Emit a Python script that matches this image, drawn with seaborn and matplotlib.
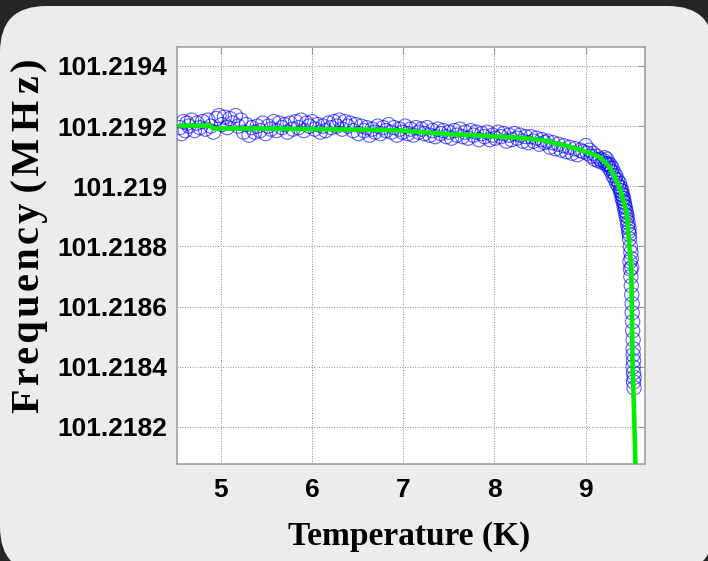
import matplotlib
matplotlib.use("Agg")
import matplotlib.pyplot as plt
from matplotlib.patches import FancyBboxPatch
import seaborn as sns
import pandas as pd

# ---------------- data ----------------
temp_meas = [
    4.55, 4.57, 4.59, 4.61, 4.63, 4.65, 4.68, 4.71, 4.74, 4.77,
    4.80, 4.83, 4.86, 4.89, 4.92, 4.95, 4.98, 5.01, 5.04, 5.07,
    5.10, 5.13, 5.16, 5.19, 5.22, 5.25, 5.28, 5.31, 5.34, 5.37,
    5.40, 5.43, 5.46, 5.49, 5.52, 5.55, 5.58, 5.61, 5.64, 5.67,
    5.70, 5.73, 5.76, 5.79, 5.82, 5.85, 5.88, 5.91, 5.94, 5.97,
    6.00, 6.03, 6.06, 6.09, 6.12, 6.15, 6.18, 6.21, 6.24, 6.27,
    6.30, 6.33, 6.36, 6.39, 6.42, 6.45, 6.48, 6.51, 6.54, 6.57,
    6.60, 6.63, 6.66, 6.69, 6.72, 6.75, 6.78, 6.81, 6.84, 6.87,
    6.90, 6.93, 6.96, 6.99, 7.02, 7.05, 7.08, 7.11, 7.14, 7.17,
    7.20, 7.23, 7.26, 7.29, 7.32, 7.35, 7.38, 7.41, 7.44, 7.47,
    7.50, 7.53, 7.56, 7.59, 7.62, 7.65, 7.68, 7.71, 7.74, 7.77,
    7.80, 7.83, 7.86, 7.89, 7.92, 7.95, 7.98, 8.01, 8.04, 8.07,
    8.10, 8.13, 8.16, 8.19, 8.22, 8.25, 8.28, 8.31, 8.34, 8.37,
    8.40, 8.43, 8.46, 8.49, 8.52, 8.55, 8.58, 8.61, 8.64, 8.67,
    8.70, 8.73, 8.76, 8.79, 8.82, 8.85, 8.88, 8.91, 8.94, 8.97,
    9.00, 9.02, 9.04, 9.06, 9.08, 9.10, 9.12, 9.14, 9.16, 9.18,
    9.20, 9.22, 9.24, 9.26, 9.28, 9.30, 9.32, 9.34, 9.36, 9.38,
    9.39, 9.40, 9.41, 9.42, 9.43, 9.44, 9.45, 9.46, 9.47, 9.48,
    9.485, 9.49, 9.495, 9.50, 9.505, 9.51, 9.51, 9.515, 9.515, 9.52,
    9.52, 9.52, 9.525, 9.52, 9.525, 9.53, 9.525, 9.53,
    9.21, 9.23, 9.25, 9.27, 9.29, 9.31, 9.33, 9.35, 9.37, 9.385,
    9.395, 9.405, 9.415, 9.425, 9.435, 9.445, 9.455, 9.465, 9.475, 9.48,
    9.49, 9.495, 9.50, 9.505,
]
freq_meas = [
    101.219195, 101.219175, 101.219215, 101.219185, 101.219210, 101.219200, 101.219220, 101.219185, 101.219210, 101.219195,
    101.219215, 101.219190, 101.219220, 101.219200, 101.219180, 101.219225, 101.219235, 101.219205, 101.219230, 101.219195,
    101.219225, 101.219210, 101.219235, 101.219200, 101.219220, 101.219180, 101.219205, 101.219170, 101.219195, 101.219180,
    101.219200, 101.219185, 101.219210, 101.219175, 101.219200, 101.219190, 101.219215, 101.219185, 101.219210, 101.219195,
    101.219205, 101.219180, 101.219210, 101.219190, 101.219215, 101.219195, 101.219220, 101.219185, 101.219210, 101.219200,
    101.219215, 101.219190, 101.219205, 101.219180, 101.219200, 101.219185, 101.219210, 101.219195, 101.219215, 101.219200,
    101.219220, 101.219190, 101.219215, 101.219200, 101.219210, 101.219185, 101.219205, 101.219175, 101.219200, 101.219185,
    101.219195, 101.219170, 101.219190, 101.219180, 101.219200, 101.219175, 101.219195, 101.219185, 101.219205, 101.219180,
    101.219195, 101.219170, 101.219190, 101.219180, 101.219200, 101.219175, 101.219190, 101.219170, 101.219195, 101.219180,
    101.219190, 101.219175, 101.219195, 101.219170, 101.219185, 101.219165, 101.219190, 101.219175, 101.219185, 101.219165,
    101.219180, 101.219160, 101.219185, 101.219170, 101.219190, 101.219165, 101.219180, 101.219160, 101.219185, 101.219170,
    101.219180, 101.219155, 101.219175, 101.219165, 101.219180, 101.219155, 101.219170, 101.219160, 101.219180, 101.219165,
    101.219175, 101.219150, 101.219170, 101.219155, 101.219175, 101.219160, 101.219170, 101.219150, 101.219165, 101.219145,
    101.219165, 101.219150, 101.219160, 101.219140, 101.219155, 101.219145, 101.219150, 101.219130, 101.219145, 101.219125,
    101.219140, 101.219120, 101.219135, 101.219115, 101.219130, 101.219110, 101.219125, 101.219105, 101.219120, 101.219115,
    101.219135, 101.219110, 101.219120, 101.219100, 101.219110, 101.219090, 101.219100, 101.219085, 101.219090, 101.219080,
    101.219085, 101.219075, 101.219070, 101.219060, 101.219050, 101.219035, 101.219025, 101.219010, 101.219000, 101.218985,
    101.218975, 101.218960, 101.218950, 101.218935, 101.218920, 101.218905, 101.218890, 101.218870, 101.218850, 101.218825,
    101.218750, 101.218725, 101.218700, 101.218670, 101.218640, 101.218610, 101.218580, 101.218550, 101.218520, 101.218490,
    101.218460, 101.218440, 101.218420, 101.218400, 101.218380, 101.218365, 101.218350, 101.218330,
    101.219095, 101.219090, 101.219075, 101.219070, 101.219060, 101.219045, 101.219035, 101.219020, 101.219010, 101.218995,
    101.218985, 101.218970, 101.218960, 101.218945, 101.218930, 101.218915, 101.218900, 101.218880, 101.218860, 101.218840,
    101.218800, 101.218780, 101.218760, 101.218730,
]

temp_fit = [4.55, 4.88, 4.92, 5.50, 6.00, 6.64, 7.00, 7.41, 7.87, 8.20, 8.50, 8.82,
            9.00, 9.15, 9.26, 9.37, 9.45, 9.48, 9.50, 9.513, 9.53, 9.545, 9.56]
freq_fit = [101.219202, 101.219202, 101.219192, 101.219192, 101.219190, 101.219188,
            101.219185, 101.219175, 101.219168, 101.219163, 101.219155, 101.219132,
            101.219115, 101.219098, 101.219065, 101.218998, 101.218912, 101.218798,
            101.218722, 101.218422, 101.218250, 101.218075, 101.217900]

x_ticks = [5, 6, 7, 8, 9]
x_tick_labels = ["5", "6", "7", "8", "9"]
y_ticks = [101.2182, 101.2184, 101.2186, 101.2188, 101.2190, 101.2192, 101.2194]
y_tick_labels = ["101.2182", "101.2184", "101.2186", "101.2188", "101.219", "101.2192", "101.2194"]

meas = pd.DataFrame({"Temperature": temp_meas, "Frequency": freq_meas})
fit = pd.DataFrame({"Temperature": temp_fit, "Frequency": freq_fit})

# ---------------- figure ----------------
sns.set_style("white")
W, H = 708, 561
fig = plt.figure(figsize=(W / 100, H / 100), dpi=100)
fig.patch.set_facecolor("#262626")

panel = FancyBboxPatch((0, -12), 714, H - 6 + 12,
                       boxstyle="round,pad=0,rounding_size=46",
                       transform=None, facecolor="#ececec", edgecolor="none", zorder=0)
fig.add_artist(panel)

ax = fig.add_axes([177 / W, 1 - 464 / H, (645 - 177) / W, (464 - 47) / H])
ax.set_facecolor("white")

sns.scatterplot(data=meas, x="Temperature", y="Frequency", ax=ax,
                marker="o", s=105, facecolor="none", edgecolor="#0000ff",
                linewidth=0.8, alpha=0.62, zorder=3, legend=False)
sns.lineplot(data=fit, x="Temperature", y="Frequency", ax=ax,
             color="#00ee00", linewidth=3.3, sort=False, estimator=None, zorder=4)

ax.set_xlim(4.52, 9.65)
ax.set_ylim(101.218077, 101.219463)

tick_font = {"family": ["Liberation Sans", "DejaVu Sans"], "weight": "bold", "size": 19}
ax.set_xticks(x_ticks)
ax.set_xticklabels(x_tick_labels, fontdict=tick_font)
ax.set_yticks(y_ticks)
ax.set_yticklabels(y_tick_labels, fontdict=tick_font)
ax.tick_params(axis="both", direction="in", length=5, width=0.8, color="#9a9a9a",
               top=True, right=True, labelcolor="black")
ax.tick_params(axis="x", pad=10)
ax.tick_params(axis="y", pad=7)

ax.grid(True, linestyle=(0, (1.0, 1.6)), color="#8c8c8c", linewidth=0.7)
for sp in ax.spines.values():
    sp.set_visible(True)
    sp.set_color("#a0a0a0")
    sp.set_linewidth(1.2)

label_font = ["Liberation Serif", "DejaVu Serif"]
ax.set_xlabel("Temperature (K)", family=label_font, fontweight="bold", fontsize=24,
              color="black")
ax.xaxis.set_label_coords(0.497, -0.175)
ax.xaxis.label.set_va("center")

hs = "\u200a"
ylab = hs.join("Frequency") + " (" + hs + (hs + hs).join("MHz") + hs + ")"
ax.set_ylabel(ylab, family=label_font, fontweight="bold", fontsize=29, color="black")
ax.yaxis.set_label_coords(-0.315, 0.547)
ax.yaxis.label.set_va("center")

fig.savefig("out.png", dpi=100, facecolor=fig.get_facecolor())
